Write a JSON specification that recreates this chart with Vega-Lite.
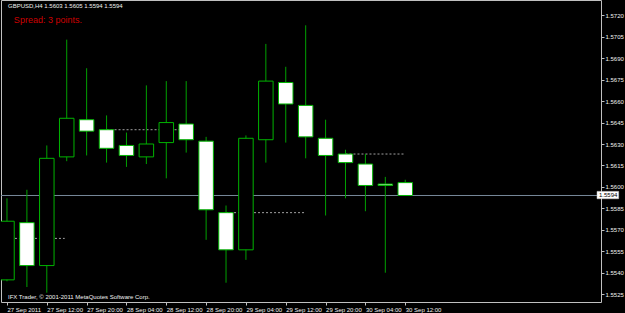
{
  "$schema": "https://vega.github.io/schema/vega-lite/v6.json",
  "width": 600,
  "height": 302,
  "autosize": {"type": "none"},
  "padding": {"left": 1, "top": 0, "right": 24, "bottom": 11},
  "background": "#000000",
  "config": {
    "view": {"stroke": "#c0c0c0", "strokeWidth": 1, "fill": "#000000"},
    "axis": {"domain": false, "grid": false, "labelFont": "Liberation Sans", "labelFontSize": 6, "labelColor": "#f0f0f0", "tickColor": "#c0c0c0", "tickSize": 3, "title": null, "labelOverlap": false}
  },
  "datasets": {
    "candles": [
      {"i": 0, "t": "2011-09-27 04:00", "open": 1.5535, "high": 1.5592, "low": 1.5534, "close": 1.5576},
      {"i": 1, "t": "2011-09-27 08:00", "open": 1.5575, "high": 1.5598, "low": 1.5530, "close": 1.5545},
      {"i": 2, "t": "2011-09-27 12:00", "open": 1.5545, "high": 1.5629, "low": 1.5526, "close": 1.5620},
      {"i": 3, "t": "2011-09-27 16:00", "open": 1.5621, "high": 1.5703, "low": 1.5618, "close": 1.5648},
      {"i": 4, "t": "2011-09-27 20:00", "open": 1.5647, "high": 1.5683, "low": 1.5622, "close": 1.5639},
      {"i": 5, "t": "2011-09-28 00:00", "open": 1.5640, "high": 1.5650, "low": 1.5617, "close": 1.5627},
      {"i": 6, "t": "2011-09-28 04:00", "open": 1.5629, "high": 1.5638, "low": 1.5614, "close": 1.5622},
      {"i": 7, "t": "2011-09-28 08:00", "open": 1.5621, "high": 1.5671, "low": 1.5616, "close": 1.5630},
      {"i": 8, "t": "2011-09-28 12:00", "open": 1.5631, "high": 1.5674, "low": 1.5606, "close": 1.5645},
      {"i": 9, "t": "2011-09-28 16:00", "open": 1.5644, "high": 1.5674, "low": 1.5624, "close": 1.5633},
      {"i": 10, "t": "2011-09-28 20:00", "open": 1.5632, "high": 1.5635, "low": 1.5563, "close": 1.5584},
      {"i": 11, "t": "2011-09-29 00:00", "open": 1.5582, "high": 1.5587, "low": 1.5533, "close": 1.5556},
      {"i": 12, "t": "2011-09-29 04:00", "open": 1.5556, "high": 1.5636, "low": 1.5549, "close": 1.5634},
      {"i": 13, "t": "2011-09-29 08:00", "open": 1.5633, "high": 1.5700, "low": 1.5617, "close": 1.5674},
      {"i": 14, "t": "2011-09-29 12:00", "open": 1.5673, "high": 1.5684, "low": 1.5631, "close": 1.5658},
      {"i": 15, "t": "2011-09-29 16:00", "open": 1.5657, "high": 1.5713, "low": 1.5620, "close": 1.5635},
      {"i": 16, "t": "2011-09-29 20:00", "open": 1.5634, "high": 1.5647, "low": 1.5580, "close": 1.5622},
      {"i": 17, "t": "2011-09-30 00:00", "open": 1.5623, "high": 1.5626, "low": 1.5592, "close": 1.5617},
      {"i": 18, "t": "2011-09-30 04:00", "open": 1.5616, "high": 1.5623, "low": 1.5583, "close": 1.5601},
      {"i": 19, "t": "2011-09-30 08:00", "open": 1.5602, "high": 1.5607, "low": 1.5540, "close": 1.5601},
      {"i": 20, "t": "2011-09-30 12:00", "open": 1.5603, "high": 1.5605, "low": 1.5594, "close": 1.5594}
    ],
    "levels": [
      {"start": 0, "end": 2.9, "level": 1.5564},
      {"start": 5, "end": 9, "level": 1.5640},
      {"start": 11, "end": 15, "level": 1.5582},
      {"start": 17, "end": 19.93, "level": 1.5623}
    ],
    "last": [{"price": 1.5594}]
  },
  "layer": [
    {
      "data": {"name": "levels"},
      "mark": {"type": "rule", "color": "#a0a0a0", "strokeDash": [2, 2], "strokeWidth": 1},
      "encoding": {
        "x": {"field": "start", "type": "quantitative", "scale": {"domain": [-0.0494, 29.58], "nice": false, "zero": false},
          "axis": {"orient": "bottom", "tickCount": 30, "values": [0, 2, 4, 6, 8, 10, 12, 14, 16, 18, 20], "labelAlign": "left", "labelBaseline": "top", "labelPadding": 1, "labelFlush": false, "labelOverlap": false,
            "labelExpr": "['27 Sep 2011','27 Sep 12:00','27 Sep 20:00','28 Sep 04:00','28 Sep 12:00','28 Sep 20:00','29 Sep 04:00','29 Sep 12:00','29 Sep 20:00','30 Sep 04:00','30 Sep 12:00'][round(datum.value/2)]"}},
        "x2": {"field": "end"},
        "y": {"field": "level", "type": "quantitative", "scale": {"domain": [1.551952, 1.573071], "nice": false, "zero": false},
          "axis": {"orient": "right", "tickCount": 30, "values": [1.5525, 1.554, 1.5555, 1.557, 1.5585, 1.56, 1.5615, 1.563, 1.5645, 1.566, 1.5675, 1.569, 1.5705, 1.572], "format": ".4f", "labelAlign": "left", "labelBaseline": "middle", "labelPadding": 1, "labelOverlap": false, "labelFlush": false}}
      }
    },
    {
      "data": {"name": "last"},
      "mark": {"type": "rule", "color": "#778899", "strokeWidth": 1},
      "encoding": {
        "y": {"field": "price", "type": "quantitative", "scale": {"domain": [1.551952, 1.573071], "nice": false, "zero": false}}
      }
    },
    {
      "data": {"name": "candles"},
      "mark": {"type": "rule", "color": "#00a000", "strokeWidth": 1},
      "encoding": {
        "x": {"field": "i", "type": "quantitative", "scale": {"domain": [-0.0494, 29.58], "nice": false, "zero": false}},
        "y": {"field": "low", "type": "quantitative", "scale": {"domain": [1.551952, 1.573071], "nice": false, "zero": false}},
        "y2": {"field": "high"}
      }
    },
    {
      "data": {"name": "candles"},
      "mark": {"type": "bar", "size": 14.5, "stroke": "#00b400", "strokeWidth": 1, "clip": true},
      "encoding": {
        "x": {"field": "i", "type": "quantitative", "scale": {"domain": [-0.0494, 29.58], "nice": false, "zero": false}},
        "y": {"field": "open", "type": "quantitative", "scale": {"domain": [1.551952, 1.573071], "nice": false, "zero": false}},
        "y2": {"field": "close"},
        "fill": {"condition": {"test": "datum.close > datum.open", "value": "#000000"}, "value": "#ffffff"}
      }
    },
    {
      "data": {"name": "last"},
      "mark": {"type": "rect", "fill": "#ffffff", "stroke": "#c0c0c0", "strokeWidth": 0.5},
      "encoding": {
        "x": {"datum": 29.63, "type": "quantitative", "scale": {"domain": [-0.0494, 29.58], "nice": false, "zero": false}},
        "x2": {"datum": 30.72},
        "y": {"datum": 1.55917, "type": "quantitative", "scale": {"domain": [1.551952, 1.573071], "nice": false, "zero": false}},
        "y2": {"datum": 1.55969}
      }
    },
    {
      "data": {"name": "last"},
      "mark": {"type": "text", "color": "#000000", "font": "Liberation Sans", "fontSize": 6, "align": "left", "baseline": "middle"},
      "encoding": {
        "x": {"datum": 29.73, "type": "quantitative", "scale": {"domain": [-0.0494, 29.58], "nice": false, "zero": false}},
        "y": {"field": "price", "type": "quantitative", "scale": {"domain": [1.551952, 1.573071], "nice": false, "zero": false}},
        "text": {"field": "price", "format": ".4f"}
      }
    },
    {
      "data": {"values": [{"label": "GBPUSD,H4  1.5603 1.5605 1.5594 1.5594"}]},
      "mark": {"type": "text", "color": "#f0f0f0", "font": "Liberation Sans", "fontSize": 6, "align": "left", "baseline": "middle"},
      "encoding": {
        "x": {"datum": 0.049, "type": "quantitative", "scale": {"domain": [-0.0494, 29.58], "nice": false, "zero": false}},
        "y": {"datum": 1.572652, "type": "quantitative", "scale": {"domain": [1.551952, 1.573071], "nice": false, "zero": false}},
        "text": {"field": "label"}
      }
    },
    {
      "data": {"values": [{"label": "Spread: 3 points."}]},
      "mark": {"type": "text", "color": "#cc0000", "font": "Liberation Sans", "fontSize": 9, "align": "left", "baseline": "middle"},
      "encoding": {
        "x": {"datum": 0.346, "type": "quantitative", "scale": {"domain": [-0.0494, 29.58], "nice": false, "zero": false}},
        "y": {"datum": 1.571673, "type": "quantitative", "scale": {"domain": [1.551952, 1.573071], "nice": false, "zero": false}},
        "text": {"field": "label"}
      }
    },
    {
      "data": {"values": [{"label": "IFX Trader, © 2001-2011 MetaQuotes Software Corp."}]},
      "mark": {"type": "text", "color": "#f0f0f0", "font": "Liberation Sans", "fontSize": 6, "align": "left", "baseline": "middle"},
      "encoding": {
        "x": {"datum": 0.049, "type": "quantitative", "scale": {"domain": [-0.0494, 29.58], "nice": false, "zero": false}},
        "y": {"datum": 1.552302, "type": "quantitative", "scale": {"domain": [1.551952, 1.573071], "nice": false, "zero": false}},
        "text": {"field": "label"}
      }
    }
  ]
}
